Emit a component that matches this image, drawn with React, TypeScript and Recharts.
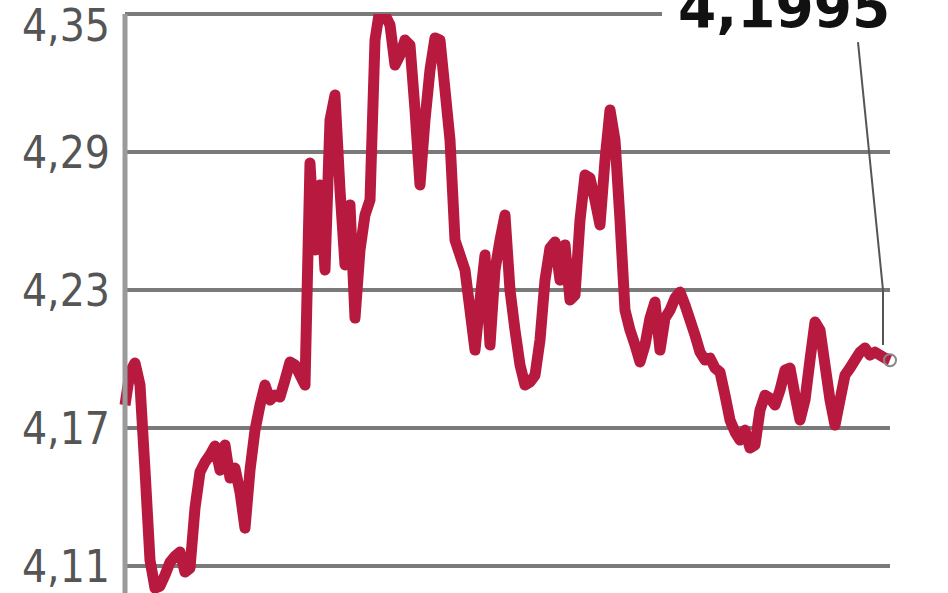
import { LineChart, Line, XAxis, YAxis, ReferenceLine, ReferenceDot } from 'recharts'

// kurs dzienny
const rates = [
  4.1800, 4.1943, 4.1983, 4.1887, 4.1517, 4.1126, 4.1004, 4.1013, 4.1061, 4.1117,
  4.1143, 4.1161, 4.1074, 4.1091, 4.1352, 4.1509, 4.1552, 4.1583, 4.1622, 4.1517,
  4.1626, 4.1483, 4.1526, 4.1422, 4.1265, 4.1517, 4.1691, 4.1800, 4.1887, 4.1822,
  4.1843, 4.1835, 4.1909, 4.1987, 4.1974, 4.1930, 4.1887, 4.2852, 4.2474, 4.2757,
  4.2387, 4.3039, 4.3148, 4.2735, 4.2409, 4.2670, 4.2178, 4.2474, 4.2626, 4.2691,
  4.3387, 4.3526, 4.3496, 4.3452, 4.3278, 4.3322, 4.3387, 4.3365, 4.3083, 4.2757,
  4.3039, 4.3257, 4.3396, 4.3387, 4.3170, 4.2952, 4.2517, 4.2452, 4.2387, 4.2213,
  4.2039, 4.2257, 4.2452, 4.2061, 4.2387, 4.2517, 4.2626, 4.2300, 4.2126, 4.1974,
  4.1887, 4.1900, 4.1930, 4.2083, 4.2343, 4.2483, 4.2509, 4.2343, 4.2496, 4.2257,
  4.2278, 4.2604, 4.2800, 4.2787, 4.2691, 4.2583, 4.2865, 4.3083, 4.2952, 4.2604,
  4.2213, 4.2126, 4.2061, 4.1987, 4.2061, 4.2178, 4.2248, 4.2039, 4.2178, 4.2213,
  4.2265, 4.2291, 4.2235, 4.2170, 4.2104, 4.2030, 4.1996, 4.2004, 4.1961, 4.1943,
  4.1843, 4.1735, 4.1683, 4.1648, 4.1691, 4.1613, 4.1626, 4.1778, 4.1843, 4.1830,
  4.1800, 4.1865, 4.1952, 4.1961, 4.1843, 4.1735, 4.1822, 4.1996, 4.2161, 4.2126,
  4.1974, 4.1822, 4.1713, 4.1822, 4.1930, 4.1961, 4.1996, 4.2030, 4.2048, 4.2017,
  4.2030, 4.2017, 4.2004, 4.1995,
]

const yTicks = [4.11, 4.17, 4.23, 4.29, 4.35]
const lastLabel = '4,1995'

const data = rates.map((v, i) => ({ i, v }))
const lastIdx = rates.length - 1
const lastVal = rates[lastIdx]

const fmt = (v: number) => v.toFixed(2).replace('.', ',')

export default function App() {
  return (
    <div style={{ position: 'absolute', left: 0, top: 0, width: 948, height: 593, background: '#fff', overflow: 'hidden' }}>
      <LineChart width={948} height={593} data={data} margin={{ top: 14, right: 58, bottom: 0, left: 0 }}>
        <XAxis dataKey="i" type="number" domain={[0, lastIdx]} hide />
        <YAxis
          domain={[4.0983, 4.35]}
          ticks={yTicks}
          allowDataOverflow
          width={125}
          tickFormatter={fmt}
          tickLine={false}
          tickSize={0}
          tickMargin={15}
          axisLine={{ stroke: '#9a9a9a', strokeWidth: 5 }}
          tick={{ fill: '#555', fontSize: 44, fontFamily: '"DejaVu Sans Condensed", "DejaVu Sans", sans-serif' }}
        />
        {yTicks.map(t => (
          <ReferenceLine key={t} y={t} stroke="#7a7a7a" strokeWidth={4} />
        ))}
        {/* odnośnik do ostatniego kursu */}
        <ReferenceLine
          segment={[{ x: 146.6, y: 4.3378 }, { x: 151.6, y: 4.23 }]}
          stroke="#555"
          strokeWidth={2}
          ifOverflow="visible"
        />
        <ReferenceLine
          segment={[{ x: 151.6, y: 4.23 }, { x: 151.6, y: 4.2061 }]}
          stroke="#555"
          strokeWidth={2}
          ifOverflow="visible"
        />
        <Line
          type="linear"
          dataKey="v"
          stroke="#b81a3f"
          strokeWidth={11}
          strokeLinejoin="round"
          dot={false}
          isAnimationActive={false}
        />
        <ReferenceDot x={lastIdx} y={lastVal} r={6} fill="none" stroke="#888" strokeWidth={2} ifOverflow="visible" />
      </LineChart>
      <div
        style={{
          position: 'absolute',
          left: 662,
          top: -22,
          paddingLeft: 16,
          paddingRight: 40,
          background: '#fff',
          fontFamily: '"DejaVu Sans", sans-serif',
          fontWeight: 'bold',
          fontSize: 55,
          lineHeight: '60px',
          color: '#111',
        }}
      >
        {lastLabel}
      </div>
    </div>
  )
}
